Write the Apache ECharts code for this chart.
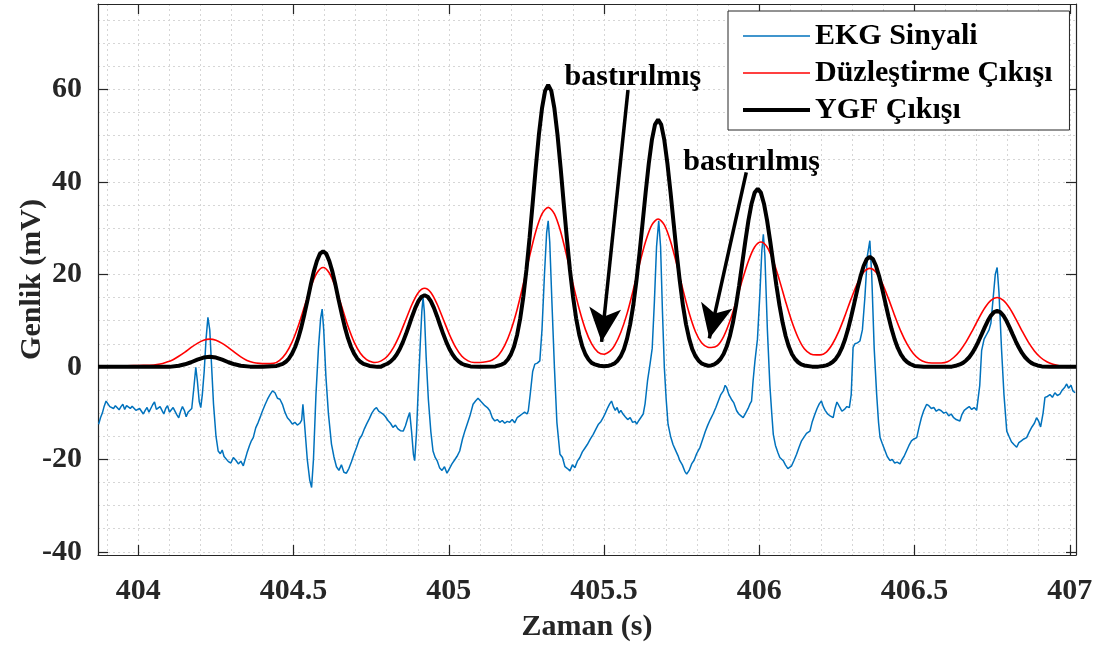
<!DOCTYPE html>
<html><head><meta charset="utf-8">
<script src="https://cdn.jsdelivr.net/npm/echarts@6/dist/echarts.min.js"></script>
<style>html,body{margin:0;padding:0;background:#fff}#c{width:1097px;height:645px}</style>
</head><body><div id="c"></div>
<script>
// ---------- data ----------
const seriesNames = ['EKG Sinyali', 'Düzleştirme Çıkışı', 'YGF Çıkışı'];
const xTickLabels = [404, 404.5, 405, 405.5, 406, 406.5, 407];
const yTickLabels = [-40, -20, 0, 20, 40, 60];
const xGridValues = [403.9,404,404.1,404.2,404.3,404.4,404.5,404.6,404.7,404.8,404.9,405,405.1,405.2,405.3,405.4,405.5,405.6,405.7,405.8,405.9,406,406.1,406.2,406.3,406.4,406.5,406.6,406.7,406.8,406.9,407];
const yGridValues = [-40,-35,-30,-25,-20,-15,-10,-5,0,5,10,15,20,25,30,35,40,45,50,55,60,65,70,75];

const ekgSignal = [
[403.872,-12.4],[403.878,-11.0],[403.884,-10.0],[403.890,-8.5],[403.896,-7.4],[403.902,-7.8],[403.908,-8.6],[403.914,-8.2],[403.920,-9.0],[403.926,-8.4],
[403.932,-8.0],[403.938,-9.3],[403.944,-8.6],[403.950,-8.1],[403.956,-9.2],[403.962,-8.4],[403.968,-8.0],[403.974,-9.0],[403.980,-8.5],[403.986,-8.2],
[403.992,-9.4],[403.998,-9.8],[404.004,-9.0],[404.010,-9.6],[404.016,-10.2],[404.022,-9.4],[404.028,-8.8],[404.034,-9.8],[404.040,-9.0],[404.046,-8.2],
[404.052,-7.6],[404.058,-9.2],[404.064,-9.6],[404.070,-8.6],[404.076,-9.4],[404.082,-10.2],[404.088,-9.0],[404.094,-8.4],[404.100,-9.8],[404.106,-10.0],
[404.112,-8.8],[404.118,-9.2],[404.124,-10.4],[404.130,-11.0],[404.136,-9.6],[404.142,-8.6],[404.148,-9.4],[404.154,-10.8],[404.160,-9.8],[404.166,-10.2],
[404.172,-9.0],[404.178,-5.0],[404.185,-0.1],[404.190,-3.0],[404.196,-7.5],[404.201,-8.8],[404.206,-6.0],[404.212,-1.0],[404.218,6.0],[404.224,10.7],
[404.230,8.0],[404.236,0.0],[404.242,-8.0],[404.250,-15.0],[404.257,-18.2],[404.264,-18.8],[404.270,-18.0],[404.276,-19.4],[404.282,-19.0],[404.290,-20.5],
[404.298,-20.8],[404.306,-19.6],[404.314,-20.2],[404.322,-21.0],[404.330,-20.4],[404.338,-21.4],[404.343,-21.1],[404.350,-18.6],[404.358,-17.0],[404.364,-16.0],
[404.370,-15.3],[404.378,-13.2],[404.386,-12.0],[404.394,-10.6],[404.400,-9.5],[404.408,-8.2],[404.416,-7.0],[404.424,-6.0],[404.432,-5.2],[404.440,-5.6],
[404.448,-6.8],[404.456,-7.0],[404.464,-8.1],[404.472,-9.8],[404.480,-11.0],[404.488,-11.6],[404.496,-12.4],[404.504,-12.0],[404.512,-12.6],[404.520,-12.2],
[404.526,-11.5],[404.530,-8.1],[404.536,-13.0],[404.544,-20.0],[404.552,-24.5],[404.558,-26.1],[404.564,-20.0],[404.572,-6.0],[404.580,4.0],[404.587,10.5],
[404.592,12.5],[404.597,8.0],[404.604,-2.0],[404.612,-10.0],[404.622,-16.7],[404.630,-19.5],[404.638,-21.6],[404.646,-22.4],[404.654,-21.2],[404.662,-22.8],
[404.670,-23.0],[404.678,-22.0],[404.686,-20.6],[404.694,-19.0],[404.703,-17.4],[404.712,-15.6],[404.720,-14.8],[404.728,-13.4],[404.735,-12.4],[404.744,-11.2],
[404.752,-10.0],[404.760,-9.2],[404.767,-8.8],[404.774,-9.6],[404.780,-9.2],[404.788,-10.2],[404.796,-10.8],[404.804,-11.6],[404.812,-12.2],[404.820,-13.1],
[404.828,-12.6],[404.836,-13.4],[404.844,-13.8],[404.853,-13.9],[404.860,-12.8],[404.868,-11.0],[404.874,-9.9],[404.880,-14.0],[404.886,-19.0],[404.890,-20.3],
[404.896,-14.0],[404.902,-4.0],[404.908,5.0],[404.913,12.0],[404.917,15.0],[404.921,12.0],[404.927,2.0],[404.934,-7.0],[404.942,-14.0],[404.949,-18.2],
[404.956,-19.6],[404.963,-20.4],[404.970,-21.8],[404.978,-22.4],[404.986,-21.6],[404.994,-23.0],[405.002,-22.0],[405.010,-21.0],[405.018,-20.2],[405.026,-19.4],
[405.035,-18.2],[405.044,-15.6],[405.052,-13.8],[405.060,-12.2],[405.068,-10.6],[405.078,-8.1],[405.086,-7.4],[405.094,-6.8],[405.100,-6.6],[405.108,-7.8],
[405.116,-8.4],[405.124,-8.8],[405.132,-9.5],[405.140,-11.0],[405.148,-11.7],[405.156,-11.4],[405.164,-12.0],[405.172,-11.6],[405.180,-12.2],[405.188,-11.8],
[405.196,-12.0],[405.204,-11.4],[405.212,-12.1],[405.220,-11.0],[405.228,-10.6],[405.236,-10.2],[405.244,-9.8],[405.252,-10.2],[405.256,-9.5],[405.262,-6.0],
[405.270,-1.0],[405.277,0.6],[405.285,0.8],[405.293,1.3],[405.300,8.0],[405.308,20.0],[405.315,29.0],[405.320,31.6],[405.325,27.0],[405.332,14.0],
[405.340,0.0],[405.348,-12.0],[405.358,-18.9],[405.366,-19.6],[405.374,-21.6],[405.382,-22.0],[405.390,-22.5],[405.398,-21.2],[405.406,-21.8],[405.414,-20.4],
[405.422,-19.6],[405.430,-18.4],[405.438,-17.6],[405.446,-16.8],[405.456,-15.6],[405.465,-14.6],[405.474,-13.4],[405.482,-12.4],[405.490,-11.8],[405.497,-11.0],
[405.504,-10.0],[405.512,-8.8],[405.518,-8.0],[405.524,-7.4],[405.530,-8.6],[405.536,-9.4],[405.542,-8.8],[405.548,-10.0],[405.554,-9.4],[405.561,-10.2],
[405.568,-10.8],[405.576,-11.4],[405.584,-11.0],[405.592,-12.0],[405.600,-11.8],[405.605,-12.4],[405.612,-11.6],[405.618,-11.0],[405.626,-10.2],[405.632,-8.0],
[405.640,-3.0],[405.648,0.6],[405.655,4.0],[405.662,14.0],[405.669,26.0],[405.676,31.6],[405.682,26.0],[405.688,12.0],[405.694,0.0],[405.700,-7.0],
[405.706,-12.4],[405.714,-15.0],[405.722,-16.8],[405.730,-18.0],[405.738,-19.2],[405.744,-20.3],[405.752,-21.2],[405.760,-22.6],[405.766,-23.2],[405.774,-22.4],
[405.782,-21.0],[405.790,-20.2],[405.798,-18.8],[405.809,-17.4],[405.818,-15.6],[405.826,-14.0],[405.834,-12.6],[405.842,-11.4],[405.851,-10.2],[405.860,-8.8],
[405.868,-7.4],[405.876,-6.0],[405.884,-5.2],[405.890,-4.0],[405.895,-4.5],[405.902,-6.0],[405.910,-7.0],[405.918,-7.8],[405.927,-9.5],[405.934,-10.2],
[405.941,-10.6],[405.948,-11.0],[405.956,-10.0],[405.964,-9.0],[405.970,-8.0],[405.975,-7.4],[405.980,-3.0],[405.986,1.3],[405.994,6.0],[406.002,16.0],
[406.008,25.0],[406.013,28.7],[406.018,24.0],[406.026,8.0],[406.034,-4.0],[406.040,-10.0],[406.045,-14.6],[406.052,-17.0],[406.060,-18.6],[406.066,-19.6],
[406.072,-20.0],[406.077,-20.3],[406.084,-21.2],[406.092,-22.0],[406.098,-22.1],[406.104,-21.4],[406.112,-20.2],[406.120,-18.9],[406.128,-17.4],[406.136,-16.0],
[406.144,-15.2],[406.152,-14.4],[406.163,-13.9],[406.170,-12.0],[406.178,-10.4],[406.186,-9.0],[406.193,-8.0],[406.200,-7.4],[406.206,-8.6],[406.212,-9.4],
[406.220,-10.2],[406.228,-10.6],[406.234,-11.0],[406.238,-11.0],[406.244,-9.0],[406.250,-7.6],[406.254,-7.4],[406.260,-8.8],[406.266,-9.6],[406.274,-9.2],
[406.282,-8.6],[406.290,-8.8],[406.296,-6.0],[406.302,4.2],[406.308,5.0],[406.316,5.2],[406.324,5.6],[406.332,8.0],[406.340,15.0],[406.348,24.0],
[406.356,27.3],[406.362,20.0],[406.370,4.0],[406.378,-6.0],[406.384,-12.0],[406.389,-15.3],[406.396,-16.6],[406.404,-18.0],[406.412,-19.4],[406.421,-20.3],
[406.428,-20.0],[406.436,-20.8],[406.444,-20.6],[406.453,-21.0],[406.460,-20.0],[406.466,-19.4],[406.474,-18.2],[406.482,-17.0],[406.490,-16.0],[406.498,-15.6],
[406.507,-15.3],[406.514,-13.2],[406.522,-11.0],[406.530,-9.4],[406.539,-8.1],[406.546,-8.4],[406.554,-9.0],[406.562,-8.8],[406.570,-9.6],[406.578,-9.2],
[406.586,-9.5],[406.594,-10.0],[406.602,-9.8],[406.610,-10.6],[406.618,-10.2],[406.626,-11.0],[406.634,-11.4],[406.640,-11.2],[406.646,-11.7],[406.652,-10.4],
[406.660,-9.4],[406.668,-9.0],[406.676,-8.6],[406.684,-9.2],[406.692,-8.8],[406.700,-9.4],[406.705,-9.5],[406.710,-4.0],[406.716,3.5],[406.724,6.0],
[406.732,7.0],[406.740,8.0],[406.746,9.5],[406.752,14.0],[406.760,20.0],[406.766,21.5],[406.772,16.0],[406.780,4.0],[406.788,-6.0],[406.797,-13.9],
[406.804,-15.0],[406.812,-16.2],[406.820,-16.8],[406.829,-17.4],[406.836,-16.4],[406.844,-16.0],[406.852,-15.6],[406.861,-15.3],[406.870,-14.0],[406.878,-13.0],
[406.886,-12.2],[406.893,-11.0],[406.900,-11.8],[406.906,-13.0],[406.909,-13.1],[406.914,-10.0],[406.920,-6.6],[406.928,-6.4],[406.936,-6.0],[406.944,-6.6],
[406.952,-5.6],[406.960,-6.2],[406.968,-5.9],[406.976,-5.0],[406.984,-4.4],[406.990,-3.7],[406.996,-4.6],[407.004,-4.0],[407.010,-5.2],[407.017,-5.6]
];

const smoothingOutput = [
[403.87,0.2],[403.95,0.2],[404.00,0.3],[404.05,0.4],[404.07,0.6],[404.09,1.0],[404.11,1.5],[404.13,2.3],[404.15,3.2],[404.17,4.2],
[404.19,5.09],[404.21,5.76],[404.23,6.0],[404.25,5.76],[404.27,5.09],[404.29,4.16],[404.31,3.12],[404.33,2.16],[404.35,1.38],[404.37,0.95],
[404.39,0.75],[404.41,0.7],[404.435,0.75],[404.455,1.42],[404.475,2.9],[404.495,5.35],[404.515,8.84],[404.535,13.05],[404.555,17.2],[404.575,20.3],
[404.595,21.5],[404.615,20.3],[404.635,17.2],[404.655,13.05],[404.675,8.84],[404.695,5.35],[404.715,2.95],[404.735,1.56],[404.755,0.98],[404.762,0.94],
[404.782,1.29],[404.802,2.3],[404.822,4.23],[404.842,6.99],[404.862,10.3],[404.882,13.6],[404.902,16.1],[404.922,17.0],[404.942,16.1],[404.962,13.6],
[404.982,10.3],[405.002,6.99],[405.022,4.23],[405.042,2.3],[405.062,1.3],[405.082,0.95],[405.10,0.95],[405.12,1.1],[405.14,1.5],[405.16,2.52],
[405.18,4.66],[405.20,7.94],[405.22,12.42],[405.24,17.94],[405.26,23.9],[405.28,29.3],[405.30,33.1],[405.32,34.5],[405.34,33.1],[405.36,29.3],
[405.38,23.9],[405.40,17.94],[405.42,12.5],[405.44,8.06],[405.46,4.96],[405.48,3.2],[405.50,2.74],[405.52,3.44],[405.534,4.64],[405.554,7.5],
[405.574,11.52],[405.594,16.64],[405.614,22.18],[405.634,27.17],[405.654,30.72],[405.674,32.0],[405.694,30.72],[405.714,27.17],[405.734,22.18],[405.754,16.7],
[405.774,11.64],[405.794,7.65],[405.814,5.2],[405.834,4.25],[405.845,4.2],[405.865,4.6],[405.885,6.55],[405.905,9.86],[405.925,14.04],[405.945,18.71],
[405.965,22.92],[405.985,25.92],[406.005,27.0],[406.025,25.92],[406.045,22.92],[406.065,18.71],[406.085,14.04],[406.105,9.75],[406.125,6.3],[406.145,3.9],
[406.165,2.8],[406.185,2.6],[406.196,2.6],[406.216,3.2],[406.236,5.0],[406.256,7.67],[406.276,11.08],[406.296,14.76],[406.316,18.08],[406.336,20.45],
[406.356,21.3],[406.376,20.45],[406.396,18.08],[406.416,14.76],[406.436,11.08],[406.456,7.67],[406.476,4.9],[406.496,2.88],[406.516,1.6],[406.536,1.0],
[406.556,0.85],[406.586,0.85],[406.606,1.1],[406.626,2.03],[406.646,3.45],[406.666,5.4],[406.686,7.8],[406.706,10.4],[406.726,12.74],[406.746,14.4],
[406.766,15.0],[406.786,14.4],[406.806,12.74],[406.826,10.4],[406.846,7.8],[406.866,5.4],[406.886,3.45],[406.906,2.03],[406.926,1.1],[406.946,0.56],
[406.966,0.25],[406.99,0.1],[407.02,0.05]
];

const ygfOutput = [
[403.87,0],[404.10,0],[404.13,0.25],[404.15,0.55],[404.17,1.0],[404.19,1.56],[404.21,2.02],[404.23,2.2],[404.25,2.02],[404.27,1.56],
[404.29,1.0],[404.31,0.55],[404.33,0.25],[404.36,0.05],[404.40,0],[404.445,0.2],[404.465,0.65],[404.475,1.1],[404.485,1.8],[404.495,2.85],
[404.505,4.3],[404.515,6.2],[404.525,8.6],[404.535,11.45],[404.545,14.5],[404.555,17.7],[404.565,20.6],[404.575,22.9],[404.585,24.5],[404.595,25.0],
[404.605,24.5],[404.615,22.9],[404.625,20.6],[404.635,17.7],[404.645,14.5],[404.655,11.45],[404.665,8.6],[404.675,6.2],[404.685,4.3],[404.695,2.85],
[404.705,1.8],[404.715,1.1],[404.725,0.65],[404.745,0.2],[404.77,0],[404.78,0],[404.792,0.4],[404.802,0.68],[404.812,1.12],[404.822,1.77],
[404.832,2.67],[404.842,3.86],[404.852,5.35],[404.862,7.1],[404.872,9.0],[404.882,10.96],[404.892,12.76],[404.902,14.21],[404.912,15.17],[404.922,15.5],
[404.932,15.17],[404.942,14.21],[404.952,12.76],[404.962,10.96],[404.972,9.0],[404.982,7.1],[404.992,5.35],[405.002,3.86],[405.012,2.67],[405.022,1.77],
[405.032,1.12],[405.042,0.68],[405.052,0.4],[405.07,0.1],[405.10,0],[405.15,0.1],[405.17,0.5],[405.18,0.85],[405.19,1.6],[405.20,2.7],
[405.21,4.4],[405.22,6.95],[405.23,10.5],[405.24,15.2],[405.25,21.0],[405.26,27.9],[405.27,35.4],[405.28,43.1],[405.29,50.2],[405.30,55.9],
[405.31,59.7],[405.32,61.0],[405.33,59.7],[405.34,55.9],[405.35,50.2],[405.36,43.1],[405.37,35.4],[405.38,27.9],[405.39,21.0],[405.40,15.2],
[405.41,10.5],[405.42,6.95],[405.43,4.4],[405.44,2.7],[405.45,1.6],[405.46,0.85],[405.47,0.55],[405.485,0.25],[405.50,0.15],[405.515,0.25],
[405.524,0.45],[405.534,0.75],[405.544,1.39],[405.554,2.35],[405.564,3.85],[405.574,6.1],[405.584,9.2],[405.594,13.3],[405.604,18.5],[405.614,24.5],
[405.624,31.1],[405.634,37.8],[405.644,44.0],[405.654,49.1],[405.664,52.4],[405.674,53.5],[405.684,52.4],[405.694,49.1],[405.704,44.0],[405.714,37.8],
[405.724,31.1],[405.734,24.5],[405.744,18.5],[405.754,13.3],[405.764,9.2],[405.774,6.1],[405.784,3.85],[405.794,2.35],[405.804,1.39],[405.814,0.75],
[405.824,0.45],[405.835,0.25],[405.845,0.3],[405.855,0.54],[405.865,1.0],[405.875,1.7],[405.885,2.77],[405.895,4.39],[405.905,6.62],[405.915,9.59],
[405.925,13.3],[405.935,17.6],[405.945,22.4],[405.955,27.2],[405.965,31.7],[405.975,35.3],[405.985,37.7],[405.995,38.5],[406.005,37.7],[406.015,35.3],
[406.025,31.7],[406.035,27.2],[406.045,22.4],[406.055,17.6],[406.065,13.3],[406.075,9.59],[406.085,6.62],[406.095,4.39],[406.105,2.77],[406.115,1.7],
[406.125,1.0],[406.135,0.54],[406.145,0.3],[406.17,0.05],[406.19,0.05],[406.206,0.2],[406.216,0.33],[406.226,0.62],[406.236,1.05],[406.246,1.71],
[406.256,2.71],[406.266,4.09],[406.276,5.93],[406.286,8.21],[406.296,10.9],[406.306,13.83],[406.316,16.83],[406.326,19.59],[406.336,21.82],[406.346,23.3],
[406.356,23.8],[406.366,23.3],[406.376,21.82],[406.386,19.59],[406.396,16.83],[406.406,13.83],[406.416,10.9],[406.426,8.21],[406.436,5.93],[406.446,4.09],
[406.456,2.71],[406.466,1.71],[406.476,1.05],[406.486,0.62],[406.50,0.2],[406.53,0],[406.62,0.05],[406.636,0.31],[406.646,0.53],[406.656,0.87],
[406.666,1.38],[406.676,2.08],[406.686,3.01],[406.696,4.17],[406.706,5.54],[406.716,7.03],[406.726,8.55],[406.736,9.96],[406.746,11.1],[406.756,11.85],
[406.766,12.1],[406.776,11.85],[406.786,11.1],[406.796,9.96],[406.806,8.55],[406.816,7.03],[406.826,5.54],[406.836,4.17],[406.846,3.01],[406.856,2.08],
[406.866,1.38],[406.876,0.87],[406.886,0.53],[406.896,0.31],[406.91,0.1],[406.94,0],[407.02,0]
];

// annotation arrows (start -> tip) and texts, in data units
const arrowStarts = [[405.577, 59.9], [405.958, 42.1]];
const arrowTips   = [[405.492, 5.4], [405.839, 6.15]];
const noteTexts = ['bastırılmış', 'bastırılmış'];
const notePositions = [[405.593, 62.6], [405.975, 44.2]];

// ---------- chart ----------
const FONT = '"Liberation Serif", "Times New Roman", Times, serif';
const AX = '#262626';
const X_MIN = 403.87, X_MAX = 407.02, Y_MIN = -40.7, Y_MAX = 78.5;

const chart = echarts.init(document.getElementById('c'), null, {renderer: 'canvas'});

const labelStyle = {fontFamily: FONT, fontWeight: 'bold', fontSize: 30, color: AX};
const gridLine = {show: true, lineStyle: {color: '#d6d6d6', width: 1, type: [2, 3]}};

const option = {
  animation: false,
  backgroundColor: '#ffffff',
  grid: {left: 98, right: 21, top: 4, bottom: 90, containLabel: false, outerBoundsMode: 'none'},
  legend: {
    orient: 'vertical', left: 728, top: 11,
    padding: [10, 17, 5, 13], itemGap: 7, itemWidth: 67, itemHeight: 14,
    backgroundColor: '#ffffff', borderColor: AX, borderWidth: 1, borderRadius: 0,
    itemStyle: {opacity: 0},
    lineStyle: {width: 'inherit'},
    textStyle: {fontFamily: FONT, fontWeight: 'bold', fontSize: 30, color: '#000'},
    data: seriesNames
  },
  xAxis: [
    {type: 'value', min: X_MIN, max: X_MAX, position: 'bottom',
     name: 'Zaman (s)', nameLocation: 'middle', nameGap: 57, nameMoveOverlap: false,
     nameTextStyle: labelStyle,
     axisLine: {show: true, onZero: false, lineStyle: {color: AX, width: 1.2}},
     axisTick: {show: true, inside: true, length: 10, customValues: xTickLabels, lineStyle: {color: AX, width: 1.2}},
     axisLabel: Object.assign({customValues: xTickLabels, margin: 21, formatter: v => String(v)}, labelStyle),
     splitLine: {show: false}},
    {type: 'value', min: X_MIN, max: X_MAX, position: 'top',
     axisLine: {show: true, onZero: false, lineStyle: {color: AX, width: 1.2}},
     axisTick: {show: true, inside: true, length: 10, customValues: xTickLabels, lineStyle: {color: AX, width: 1.2}},
     axisLabel: {show: false}, splitLine: {show: false}},
    {type: 'value', min: X_MIN, max: X_MAX, position: 'bottom',
     axisLine: {show: false, onZero: false}, axisTick: {show: false, customValues: xGridValues},
     axisLabel: {show: false, customValues: xGridValues}, splitLine: gridLine}
  ],
  yAxis: [
    {type: 'value', min: Y_MIN, max: Y_MAX, position: 'left',
     name: 'Genlik (mV)', nameLocation: 'middle', nameGap: 51, nameMoveOverlap: false,
     nameTextStyle: labelStyle,
     axisLine: {show: true, onZero: false, lineStyle: {color: AX, width: 1.2}},
     axisTick: {show: true, inside: true, length: 10, customValues: yTickLabels, lineStyle: {color: AX, width: 1.2}},
     axisLabel: Object.assign({customValues: yTickLabels, margin: 16, formatter: v => String(v)}, labelStyle),
     splitLine: {show: false}},
    {type: 'value', min: Y_MIN, max: Y_MAX, position: 'right',
     axisLine: {show: true, onZero: false, lineStyle: {color: AX, width: 1.2}},
     axisTick: {show: true, inside: true, length: 10, customValues: yTickLabels, lineStyle: {color: AX, width: 1.2}},
     axisLabel: {show: false}, splitLine: {show: false}},
    {type: 'value', min: Y_MIN, max: Y_MAX, position: 'left',
     axisLine: {show: false, onZero: false}, axisTick: {show: false, customValues: yGridValues},
     axisLabel: {show: false, customValues: yGridValues}, splitLine: gridLine}
  ],
  series: [
    {name: seriesNames[0], type: 'line', data: ekgSignal, symbol: 'none', z: 3,
     lineStyle: {color: '#0072BD', width: 1.5}, itemStyle: {color: '#0072BD'}},
    {name: seriesNames[1], type: 'line', data: smoothingOutput, symbol: 'none', smooth: 0.3, z: 4,
     lineStyle: {color: '#FF0000', width: 1.6}, itemStyle: {color: '#FF0000'}},
    {name: seriesNames[2], type: 'line', data: ygfOutput, symbol: 'none', z: 5,
     lineStyle: {color: '#000000', width: 4}, itemStyle: {color: '#000000'},
     markLine: {
       silent: true, animation: false, symbol: ['none', 'arrow'], symbolSize: [24, 34],
       lineStyle: {color: '#000', width: 3.5, type: 'solid'}, label: {show: false},
       emphasis: {disabled: true},
       data: arrowStarts.map((s, i) => [{coord: s}, {coord: arrowTips[i]}])
     },
     markPoint: {
       silent: true, animation: false, symbol: 'circle', symbolSize: 1,
       itemStyle: {color: 'rgba(0,0,0,0)'},
       label: {show: true, position: 'inside', formatter: p => p.name,
               fontFamily: FONT, fontWeight: 'bold', fontSize: 30, color: '#000'},
       data: notePositions.map((p, i) => ({name: noteTexts[i], coord: p}))
     }}
  ]
};
chart.setOption(option);
</script>
</body></html>
